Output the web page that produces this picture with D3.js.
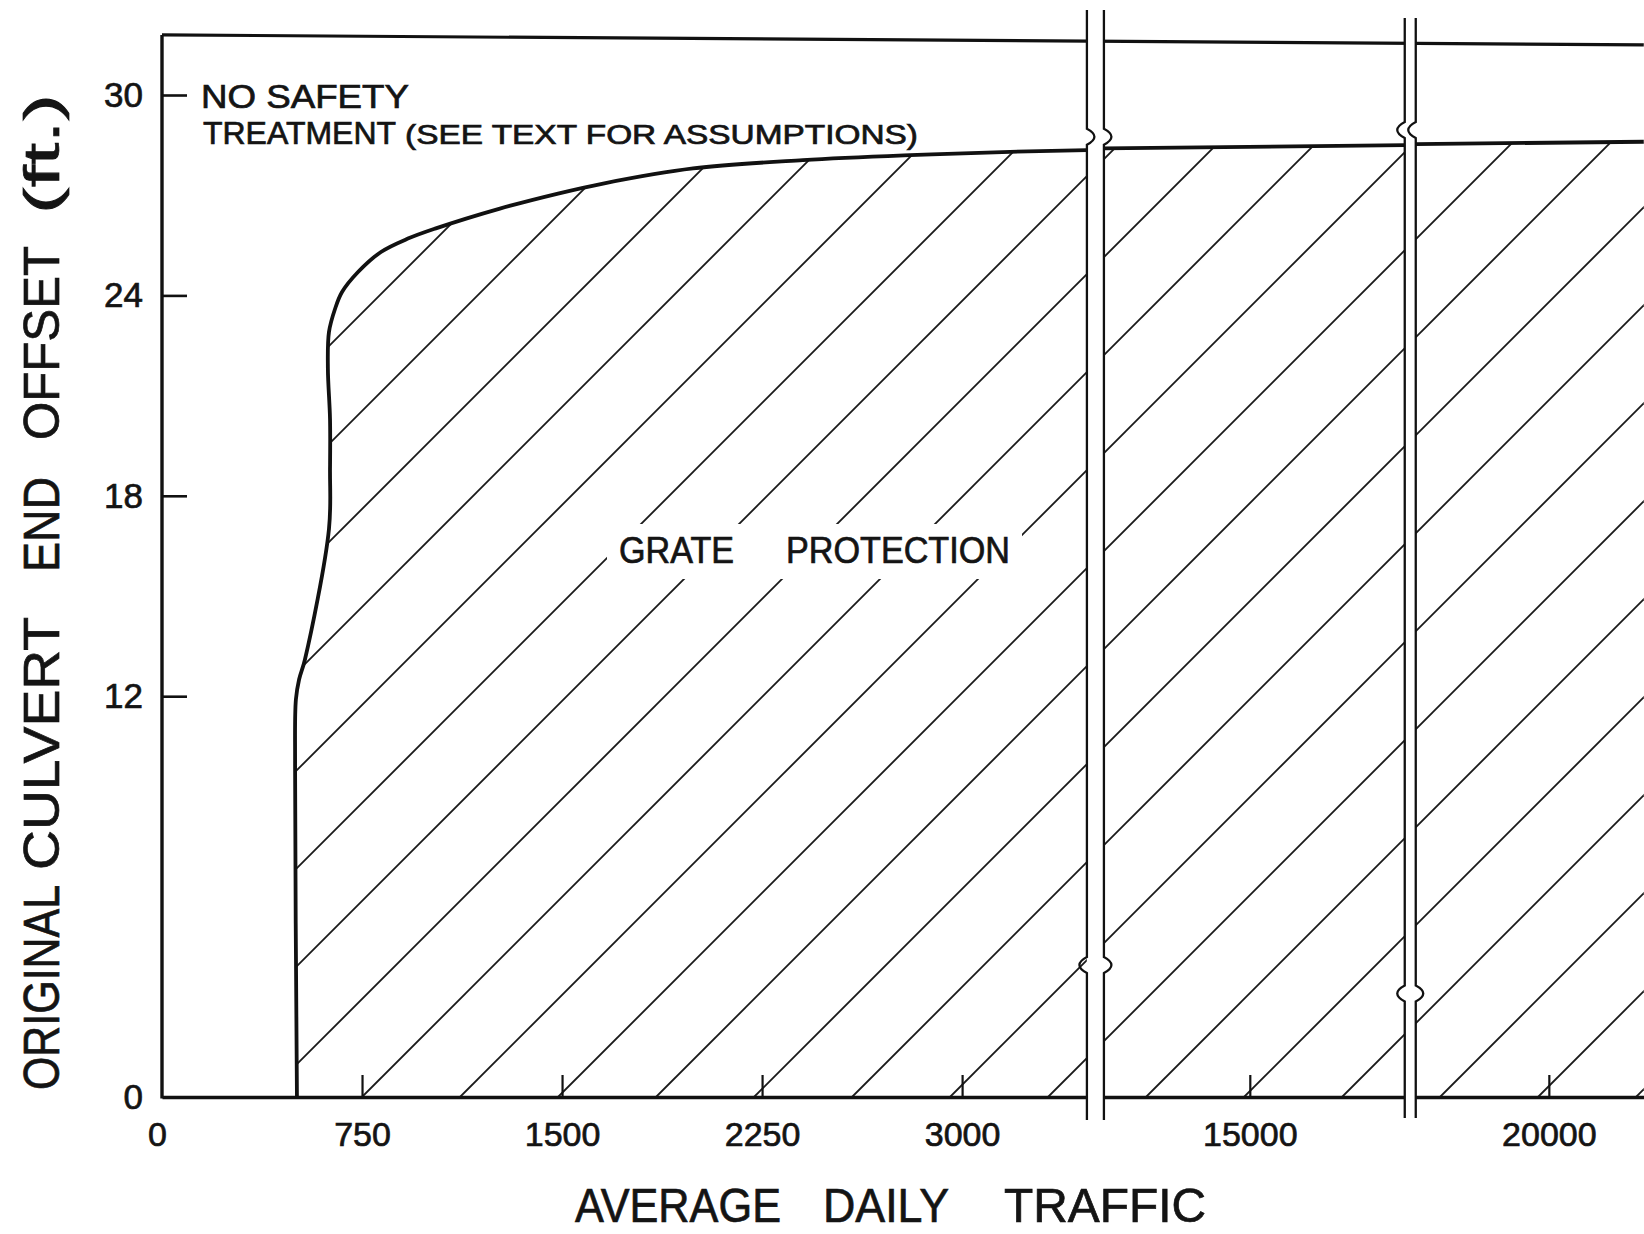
<!DOCTYPE html>
<html>
<head>
<meta charset="utf-8">
<script src="https://cdn.jsdelivr.net/npm/d3@7"></script>
<style>
  body { margin: 0; background: #fff; }
  svg text { font-family: "Liberation Sans", Arial, sans-serif; fill: #141414; stroke: #141414; stroke-width: 0.7px; }
</style>
</head>
<body>
<svg id="chart" width="1644" height="1234"></svg>
<script>
// ---- data ----
// ADT axis is broken twice; each segment keeps the same vehicles-per-pixel
var xSegments = [[0, 3468], [14453, 15581], [19501, 20356]];
var xTicks = [0, 750, 1500, 2250, 3000, 15000, 20000];
var xTickMarks = [750, 1500, 2250, 3000, 15000, 20000];
var yTicks = [0, 12, 18, 24, 30];
var yTickMarks = [12, 18, 24, 30];

// boundary between "no safety treatment" and "grate protection"
var boundaryAdt = [506, 499, 502, 514, 536, 626, 630, 630, 622, 626, 649, 675, 735, 821, 922, 1024, 1267, 1485, 1654, 1991, 2403, 2805, 3180, 3468,
                   14453, 15581, 19501, 20356];
var boundaryFt  = [0, 9.9, 11.9, 12.5, 13.1, 17.0, 18.8, 20.3, 21.8, 22.9, 23.6, 24.1, 24.7, 25.3, 25.7, 26.0, 26.6, 27.05, 27.35, 27.8, 28.05, 28.2, 28.3, 28.35,
                   28.4, 28.5, 28.53, 28.6];

// top frame line (drawn slightly tilted, like the scan)
var frameAdt = [0, 20356];
var frameFt = [31.8, 31.5];

// break symbols: where the little jogs sit (ft) and which way they bulge
var breakJogFt = [[28.75, 3.95], [28.95, 3.1]];
var breakJogDir = [[[1, 1], [-1, 1]], [[-1, -1], [-1, 1]]];

// ---- layout ----
var W = 1644, H = 1234;
var left = 162, axisY = 1097, topY = 95;
var pxPerVehicle = 0.2667;
var breakGaps = [17, 11];
var hatchStep = 98;

var svg = d3.select("#chart");

// polylinear x scale, one piece per axis segment
var dom = [], rng = [], pos = left;
xSegments.forEach(function(s, i) {
    dom.push(s[0], s[1]);
    rng.push(pos, pos + (s[1] - s[0]) * pxPerVehicle);
    pos = rng[rng.length - 1] + (breakGaps[i] || 0);
});
var x = d3.scaleLinear().domain(dom).range(rng);
var y = d3.scaleLinear().domain([0, 30]).range([axisY, topY]);

function segOf(v) {
    for (var i = 0; i < xSegments.length; i++) {
        if (v >= xSegments[i][0] - 1 && v <= xSegments[i][1] + 1) return i;
    }
    return 0;
}

// split boundary points by segment
var pieces = xSegments.map(function() { return []; });
for (var i = 0; i < boundaryAdt.length; i++) {
    pieces[segOf(boundaryAdt[i])].push([boundaryAdt[i], boundaryFt[i]]);
}

var curveLine = d3.line()
    .x(function(d) { return x(d[0]); })
    .y(function(d) { return y(d[1]); })
    .curve(d3.curveCatmullRom.alpha(0.5));

// clip region for the hatching
var clip = svg.append("defs").append("clipPath").attr("id", "grate");
pieces.forEach(function(p) {
    var last = p[p.length - 1], first = p[0];
    clip.append("path")
        .attr("d", curveLine(p) + "L" + x(last[0]) + "," + y(0) + "L" + x(first[0]) + "," + y(0) + "Z");
});

// hatching, 45 degrees, anchored on the 750 tick
var hatch = svg.append("g").attr("clip-path", "url(#grate)");
var h = axisY;
for (var c = x(750) - 20 * hatchStep; c < W; c += hatchStep) {
    hatch.append("line")
        .attr("x1", c).attr("y1", axisY)
        .attr("x2", c + h).attr("y2", axisY - h)
        .attr("stroke", "#1a1a1a")
        .attr("stroke-width", 1.8);
}

// region label with a knockout behind it
var label = svg.append("g");
var knock = label.append("rect").attr("fill", "#fff").style("stroke", "none");
label.append("text").attr("x", 619).attr("y", 563)
    .attr("font-size", 36).attr("textLength", 115).attr("lengthAdjust", "spacingAndGlyphs")
    .text("GRATE");
label.append("text").attr("x", 786).attr("y", 563)
    .attr("font-size", 36).attr("textLength", 224).attr("lengthAdjust", "spacingAndGlyphs")
    .text("PROTECTION");
var bb = label.node().getBBox();
knock.attr("x", bb.x - 12).attr("y", bb.y - 6).attr("width", bb.width + 24).attr("height", bb.height + 14);

// boundary curve
pieces.forEach(function(p) {
    svg.append("path")
        .attr("d", curveLine(p))
        .attr("fill", "none")
        .attr("stroke", "#111")
        .attr("stroke-width", 3.8)
        .attr("stroke-linejoin", "round");
});

// frame: top line and left axis
svg.append("path")
    .attr("d", d3.line().x(function(d) { return x(d[0]); }).y(function(d) { return y(d[1]); })(frameAdt.map(function(a, i) { return [a, frameFt[i]]; })))
    .attr("stroke", "#111").attr("stroke-width", 3.2).attr("fill", "none");
svg.append("line")
    .attr("x1", left).attr("x2", left)
    .attr("y1", y(frameFt[0])).attr("y2", axisY + 1.5)
    .attr("stroke", "#111").attr("stroke-width", 3.4);

// x axis
var xAxis = svg.append("g")
    .attr("transform", "translate(0," + axisY + ")")
    .call(d3.axisBottom(x).tickValues(xTicks).tickFormat(d3.format("d"))
        .tickSizeInner(0).tickSizeOuter(0).tickPadding(25));
xAxis.select(".domain").attr("stroke", "#111").attr("stroke-width", 3.4);
xAxis.selectAll("text").attr("font-size", 34).attr("fill", "#141414")
    .style("font-family", "'Liberation Sans', Arial, sans-serif");
xAxis.selectAll(".tick").filter(function(d) { return d === 0; }).select("text").attr("dx", -5);
xAxis.selectAll(".tick").filter(function(d) { return xTickMarks.indexOf(d) >= 0; })
    .select("line").attr("y2", -22).attr("stroke", "#111").attr("stroke-width", 2.2);

// y axis
var yAxis = svg.append("g")
    .attr("transform", "translate(" + left + ",0)")
    .call(d3.axisLeft(y).tickValues(yTicks).tickFormat(d3.format("d"))
        .tickSizeInner(0).tickSizeOuter(0).tickPadding(19));
yAxis.select(".domain").remove();
yAxis.selectAll("text").attr("font-size", 35).attr("fill", "#141414")
    .style("font-family", "'Liberation Sans', Arial, sans-serif");
yAxis.selectAll(".tick").filter(function(d) { return yTickMarks.indexOf(d) >= 0; })
    .select("line").attr("x2", 25).attr("stroke", "#111").attr("stroke-width", 2.6);

// axis breaks: white gap, two lines, small jogs
function breakPath(bx, y1, y2, jogs) {
    var p = "M" + bx + "," + y1;
    jogs.forEach(function(j) {
        p += "V" + (j.y - 8) + "Q" + (bx + j.d * 15) + "," + j.y + " " + bx + "," + (j.y + 8);
    });
    return p + "V" + y2;
}
for (var b = 0; b < xSegments.length - 1; b++) {
    var bl = x(xSegments[b][1]), br = x(xSegments[b + 1][0]);
    var yTop = 10 + 8 * b, yBot = axisY + 23 - 2 * b;
    svg.append("rect")
        .attr("x", bl).attr("y", yTop)
        .attr("width", br - bl).attr("height", yBot - yTop)
        .attr("fill", "#fff");
    [bl, br].forEach(function(bx, side) {
        var jogs = breakJogFt[b].map(function(f, k) {
            return {y: y(f), d: breakJogDir[b][k][side]};
        });
        svg.append("path")
            .attr("d", breakPath(bx, yTop, yBot, jogs))
            .attr("fill", "none")
            .attr("stroke", "#111")
            .attr("stroke-width", 2.3);
    });
}

// annotation above the curve
svg.append("text").attr("x", 201).attr("y", 108)
    .attr("font-size", 33).attr("textLength", 208).attr("lengthAdjust", "spacingAndGlyphs")
    .text("NO SAFETY");
svg.append("text").attr("x", 203).attr("y", 144)
    .attr("font-size", 32).attr("textLength", 193).attr("lengthAdjust", "spacingAndGlyphs")
    .text("TREATMENT");
svg.append("text").attr("x", 405).attr("y", 144)
    .attr("font-size", 27).attr("textLength", 513).attr("lengthAdjust", "spacingAndGlyphs")
    .text("(SEE TEXT FOR ASSUMPTIONS)");

// x title, word by word
var xTitle = [["AVERAGE", 575, 206], ["DAILY", 823, 126], ["TRAFFIC", 1004, 202]];
xTitle.forEach(function(w) {
    svg.append("text").attr("x", w[1]).attr("y", 1222)
        .attr("font-size", 49).attr("textLength", w[2]).attr("lengthAdjust", "spacingAndGlyphs")
        .text(w[0]);
});

// y title, rotated, word by word (start = bottom end)
var yTitle = [["ORIGINAL", 1090, 205], ["CULVERT", 870, 253], ["END", 572, 95], ["OFFSET", 440, 194], ["(ft.)", 214, 120]];
yTitle.forEach(function(w) {
    svg.append("text")
        .attr("transform", "translate(59," + w[1] + ") rotate(-90)")
        .attr("font-size", 50).attr("textLength", w[2]).attr("lengthAdjust", "spacingAndGlyphs")
        .text(w[0]);
});
</script>
</body>
</html>
